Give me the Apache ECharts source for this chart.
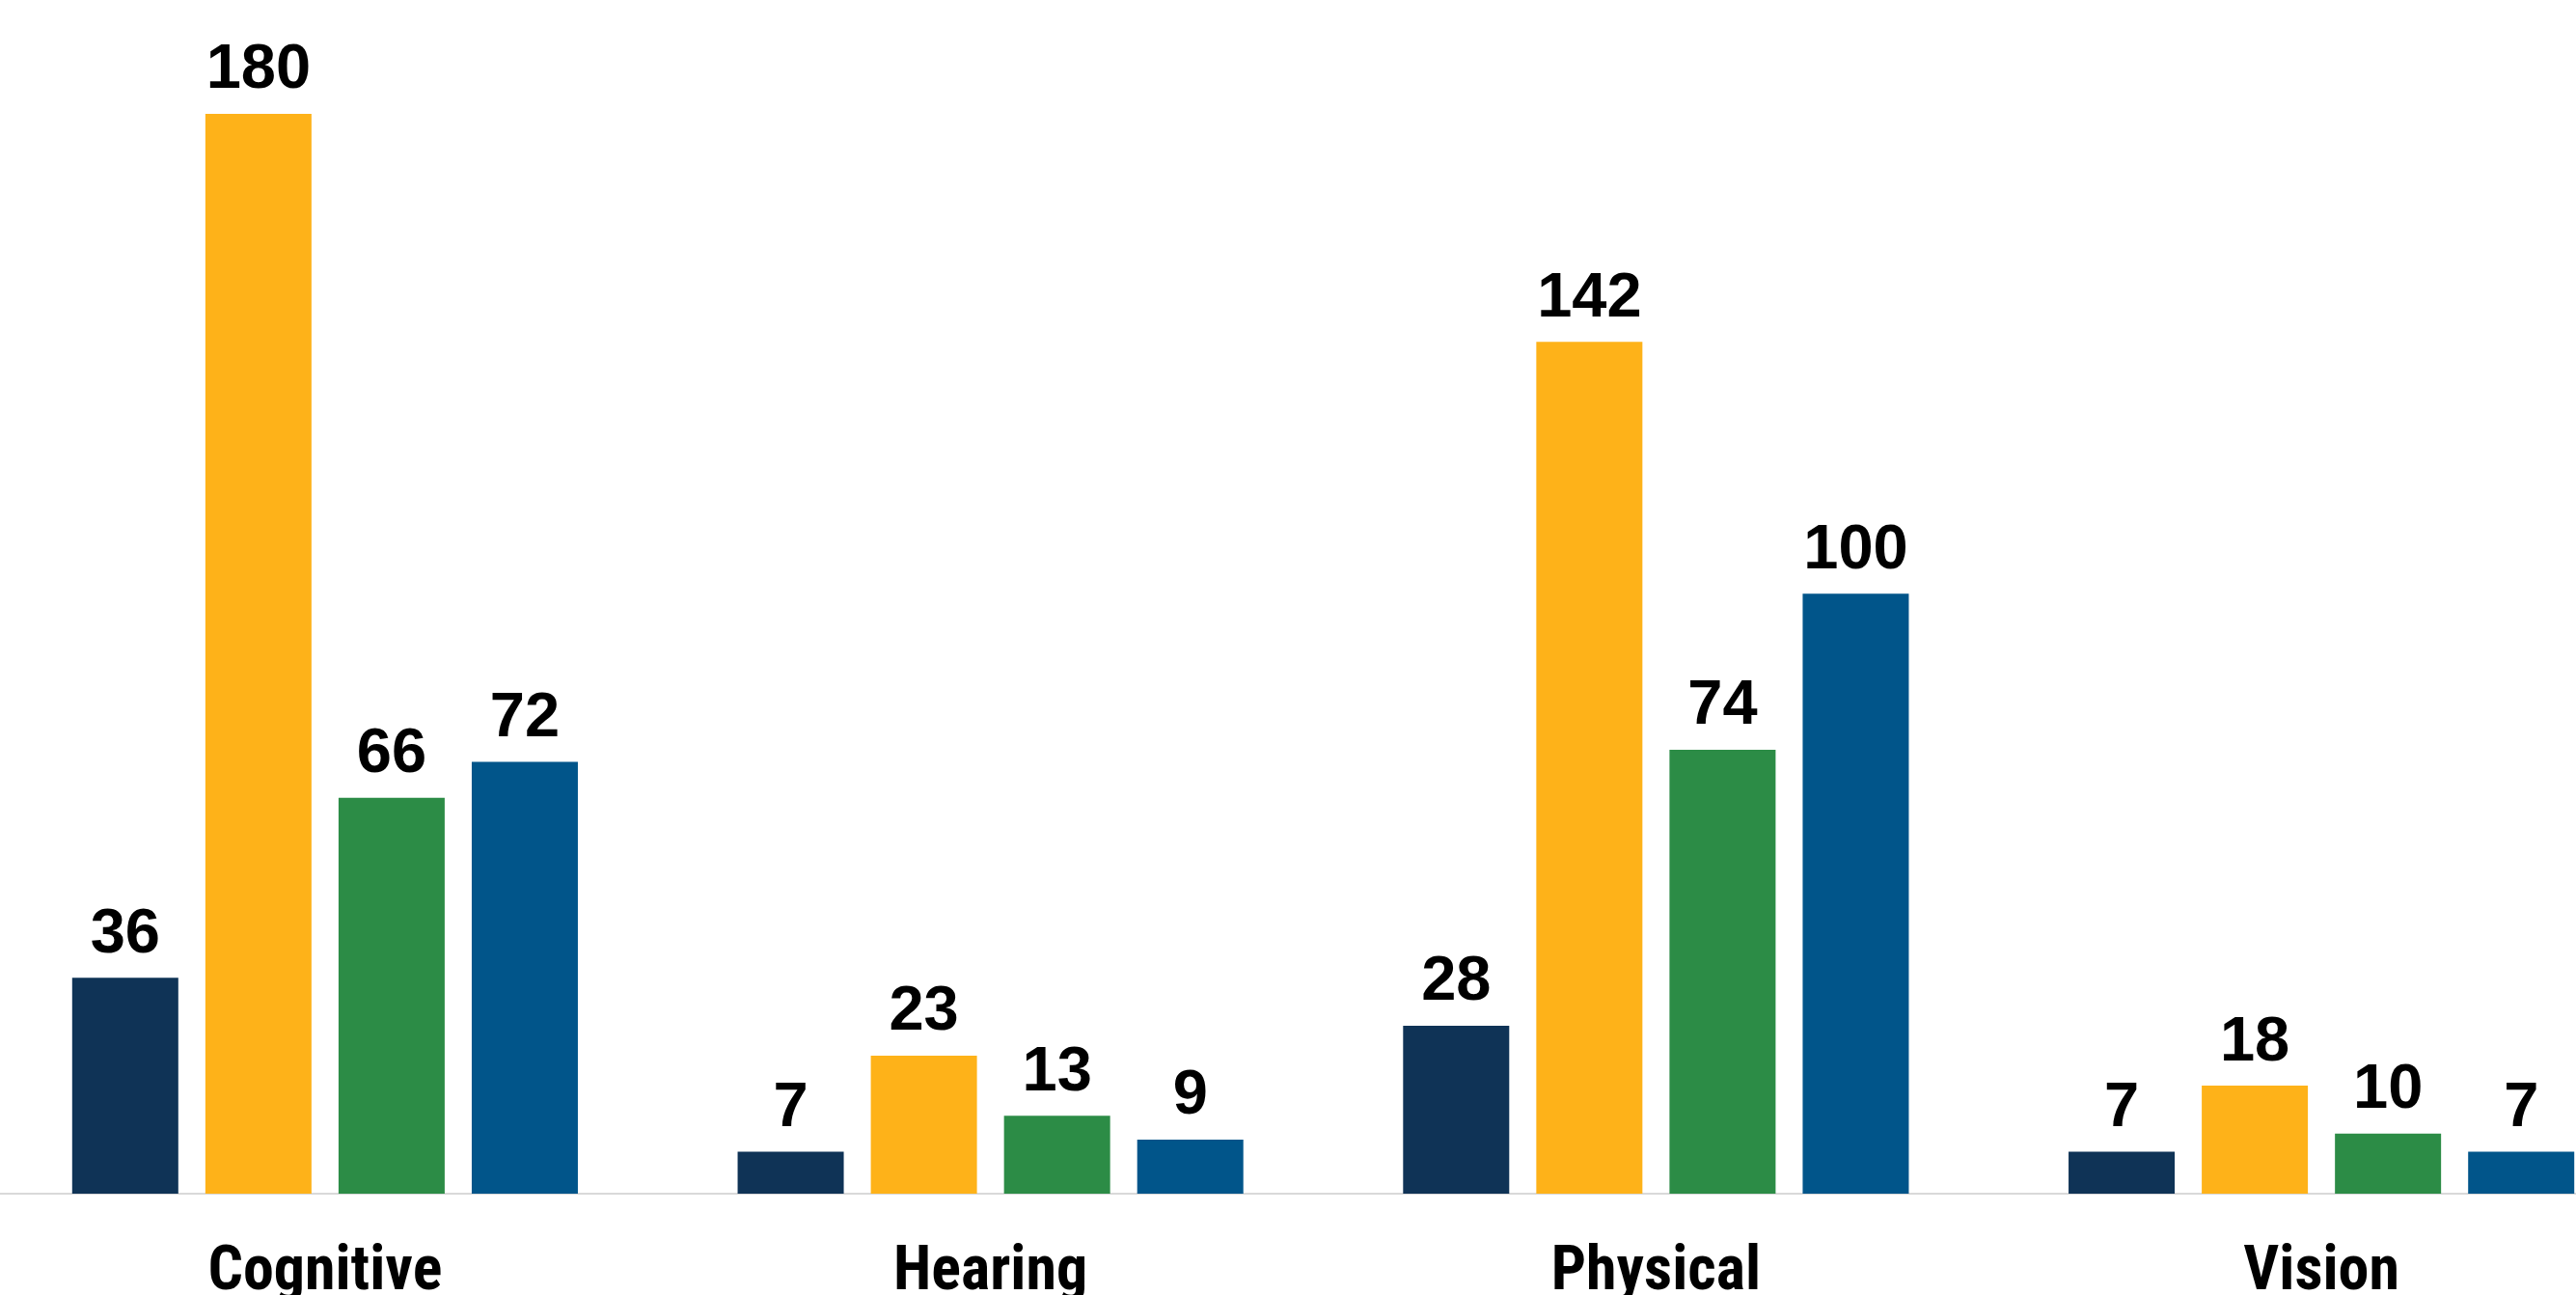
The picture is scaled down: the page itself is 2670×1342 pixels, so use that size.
<!DOCTYPE html>
<html>
<head>
<meta charset="utf-8">
<title>Disability types</title>
<script src="https://cdn.jsdelivr.net/npm/echarts@6/dist/echarts.min.js"></script>
<style>
  html, body { margin: 0; padding: 0; background: #ffffff; overflow: hidden; }
  body { width: 2670px; height: 1342px; position: relative; }
  /* the plot runs slightly past both page edges */
  #chart { position: absolute; left: -8px; top: 0; width: 2759px; height: 1342px; }
</style>
</head>
<body>
<div id="chart"></div>
<script>
// Categories along the x axis
const categories = ['Cognitive', 'Hearing', 'Physical', 'Vision'];

// One array per bar colour, in the order drawn within each group
const seriesNavy   = [36, 7, 28, 7];
const seriesGold   = [180, 23, 142, 18];
const seriesGreen  = [66, 13, 74, 10];
const seriesBlue   = [72, 9, 100, 7];

const palette = ['#0f3356', '#feb219', '#2c8c46', '#01558a'];
const seriesData = [seriesNavy, seriesGold, seriesGreen, seriesBlue];

const chart = echarts.init(document.getElementById('chart'), null, { renderer: 'canvas' });

const valueLabel = {
  show: true,
  position: 'top',
  distance: 12,
  color: '#000000',
  fontFamily: 'Liberation Sans, Arial, sans-serif',
  fontWeight: 'bold',
  fontSize: 65
};

chart.setOption({
  animation: false,
  backgroundColor: '#ffffff',
  grid: { left: 0, right: 0, top: 118, bottom: 105, containLabel: false, outerBoundsMode: 'none' },
  xAxis: {
    type: 'category',
    data: categories,
    axisTick: { show: false },
    axisLine: { show: true, lineStyle: { color: '#d9d9d9', width: 2 } },
    axisLabel: {
      color: '#000000',
      fontFamily: '"Roboto Condensed", "DejaVu Sans Condensed", sans-serif',
      fontWeight: 'bold',
      fontSize: 64,
      margin: 51
    }
  },
  yAxis: {
    type: 'value',
    min: 0,
    max: 180,
    show: false,
    splitLine: { show: false }
  },
  series: seriesData.map((values, i) => ({
    type: 'bar',
    data: values,
    barWidth: 110,
    barGap: '25.5%',
    itemStyle: { color: palette[i] },
    label: valueLabel
  }))
});
</script>
</body>
</html>
